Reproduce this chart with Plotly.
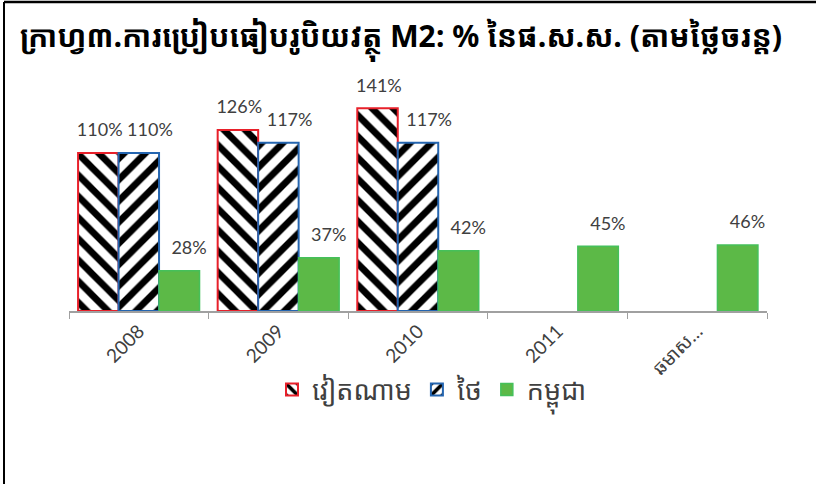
import plotly.graph_objects as go

categories = ["2008", "2009", "2010", "2011", "ឆមាស…"]
vietnam = [110, 126, 141, None, None]
thailand = [110, 117, 117, None, None]
cambodia = [28, 37, 42, 45, 46]
series_names = ["វៀតណាម", "ថៃ", "កម្ពុជា"]
title_text = "ក្រាហ្វ៣.ការប្រៀបធៀបរូបិយវត្ថុ M2: % នៃផ.ស.ស. (តាមថ្លៃចរន្ត)"

W, H = 816, 484
L, R, T, B = 69, 49, 81, 173
FONT = "Noto Sans Khmer, Khmer OS, Noto Sans, DejaVu Sans, sans-serif"
NUMFONT = "Lato, Noto Sans Khmer, Noto Sans, sans-serif"
TXT = "#404040"
GAP = 0.13
SLOT = (1 - GAP) / 3
N = len(categories)
# label centre offsets (category units) relative to category centre
label_shift = [-SLOT + 0.01, 0.08, SLOT + 0.07]

def lbl(vals):
    return [f"{v}%" if v is not None else "" for v in vals]

fig = go.Figure()
fig.add_trace(go.Bar(
    name=series_names[0], x=categories, y=vietnam,
    marker=dict(color="white", line=dict(color="#E8202A", width=2),
                pattern=dict(shape="\\", fgcolor="black", bgcolor="white", size=15,
                             solidity=0.45, fgopacity=1)),
))
fig.add_trace(go.Bar(
    name=series_names[1], x=categories, y=thailand,
    marker=dict(color="white", line=dict(color="#2465B0", width=2),
                pattern=dict(shape="/", fgcolor="black", bgcolor="white", size=15,
                             solidity=0.45, fgopacity=1)),
))
fig.add_trace(go.Bar(
    name=series_names[2], x=categories, y=cambodia,
    marker=dict(color="#5CB947", line=dict(color="#45C05A", width=1.5)),
))
for i, vals in enumerate((vietnam, thailand, cambodia)):
    fig.add_trace(go.Scatter(
        x=categories, y=vals, text=lbl(vals), mode="markers+text",
        xaxis=f"x{i + 2}",
        textposition="top center", showlegend=False, hoverinfo="skip",
        marker=dict(size=18, opacity=0), cliponaxis=False,
        textfont=dict(size=18, color=TXT, family=NUMFONT),
    ))

overlay = {}
for i, d in enumerate(label_shift):
    overlay[f"xaxis{i + 2}"] = dict(
        overlaying="x", visible=False, type="category",
        categoryorder="array", categoryarray=categories,
        range=[-0.5 - d, N - 0.5 - d], showgrid=False, zeroline=False)

fig.update_layout(
    width=W, height=H,
    margin=dict(l=L, r=R, t=T, b=B, autoexpand=False),
    paper_bgcolor="white", plot_bgcolor="white",
    barmode="group", bargap=GAP, bargroupgap=0,
    font=dict(family=FONT, color=TXT),
    title=dict(text=title_text, x=20 / W, xref="container", xanchor="left",
               y=1 - 36 / H, yref="container", yanchor="middle",
               font=dict(size=30, color="black", family=FONT, weight="bold")),
    xaxis=dict(showline=True, linecolor="#A0A0A0", linewidth=1.5,
               type="category", range=[-0.5, N - 0.5],
               ticks="outside", tickson="boundaries", ticklen=6, tickcolor="#A0A0A0",
               tickangle=-45, tickfont=dict(size=19, color=TXT, family=NUMFONT),
               showgrid=False),
    yaxis=dict(range=[0, 160], visible=False, showgrid=False, zeroline=False),
    legend=dict(orientation="h", x=(432 - L) / (W - L - R), xanchor="center",
                y=(311 - 390) / (H - T - B), yanchor="middle",
                font=dict(size=27, color=TXT, family=FONT),
                itemwidth=30, traceorder="normal"),
    showlegend=True,
    shapes=[
        dict(type="line", xref="paper", yref="paper",
             x0=(4 - L) / (W - L - R), x1=(4 - L) / (W - L - R),
             y0=(-B) / (H - T - B), y1=(H - B - 2) / (H - T - B),
             line=dict(color="black", width=2)),
        dict(type="line", xref="paper", yref="paper",
             x0=(4 - L) / (W - L - R), x1=(W - L) / (W - L - R),
             y0=(H - B - 2) / (H - T - B), y1=(H - B - 2) / (H - T - B),
             line=dict(color="black", width=2.5)),
    ],
    **overlay,
)

fig.write_html("out.html", config={"displayModeBar": False},
               post_script="document.body.style.margin='0px';")
